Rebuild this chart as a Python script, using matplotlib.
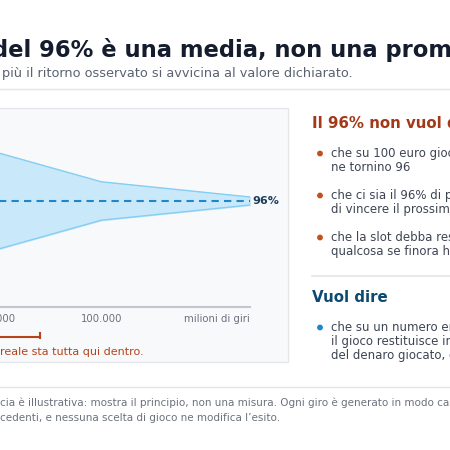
import matplotlib
matplotlib.use("Agg")
import matplotlib.pyplot as plt
from matplotlib.patches import Rectangle, Circle
from matplotlib.lines import Line2D

spins = [1e3, 1e4, 1e5, 2.8e6]
upper = [120, 108, 100.8, 97.0]
lower = [72, 84, 91.2, 95.0]
rtp = 96
tick_pos = [1e4, 1e5, 2.8e6]
tick_labels = ["10.000", "100.000", "milioni di giri"]

W = H = 450
fig = plt.figure(figsize=(4.5, 4.5), dpi=100)
fig.patch.set_facecolor("white")
def fx(x): return x / W
def fy(y): return 1 - y / H
def T(x, y, s, **kw):
    kw.setdefault("va", "baseline")
    fig.text(fx(x), fy(y), s, **kw)
def hline(x0, x1, y, **kw):
    fig.add_artist(Line2D([fx(x0), fx(x1)], [fy(y), fy(y)], transform=fig.transFigure, **kw))

T(-8, 57, "del 96% è una media, non una promessa.", fontsize=16.3, fontweight="bold", color="#141c2e")
T(2, 77, "più il ritorno osservato si avvicina al valore dichiarato.", fontsize=9.3, color="#5a6270")
hline(0, 450, 89, color="#e3e5e8", lw=1)

# chart panel
fig.add_artist(Rectangle((fx(-20), fy(362)), fx(308), (362 - 108) / H, transform=fig.transFigure,
                         facecolor="#f8f9fb", edgecolor="#e4e6ea", lw=1, zorder=-5))
ax = fig.add_axes([fx(-104), fy(307), fx(354), (307 - 110) / H])
ax.set_facecolor("none")
ax.set_xscale("log")
ax.fill_between(spins, lower, upper, color="#c9e9fb", zorder=1)
ax.plot(spins, upper, color="#86cdf2", lw=1, zorder=2)
ax.plot(spins, lower, color="#86cdf2", lw=1, zorder=2)
ax.plot([spins[-1], spins[-1]], [lower[-1], upper[-1]], color="#86cdf2", lw=1)
ax.plot(spins, [rtp] * len(spins), color="#1f86c8", lw=1.5, ls=(0, (3.5, 2.5)), zorder=3)
ax.text(spins[-1] * 1.06, rtp, "96%", fontsize=8, fontweight="bold", color="#1b3f5e", va="center")
ax.set_xlim(1e3, spins[-1])
ax.set_ylim(69.5, 118.75)
for s in ["top", "right", "left"]:
    ax.spines[s].set_visible(False)
ax.spines["bottom"].set_color("#c3c6cc")
ax.spines["bottom"].set_linewidth(1.5)
ax.set_yticks([])
ax.set_xticks(tick_pos)
ax.set_xticklabels(tick_labels)
ax.minorticks_off()
ax.tick_params(axis="x", length=0, labelsize=7.3, labelcolor="#6b717c", pad=5)
lab = ax.get_xticklabels()
lab[-1].set_ha("right")

# bracket
hline(-10, 40, 337, color="#b5441a", lw=1.5)
fig.add_artist(Line2D([fx(40), fx(40)], [fy(337.5), fy(333)], transform=fig.transFigure, color="#b5441a", lw=1.5))
T(0, 355, "reale sta tutta qui dentro.", fontsize=8, color="#b5441a")

# right panel
T(312, 128, "Il 96% non vuol dire", fontsize=10.8, fontweight="bold", color="#a4391a")
bul = [("che su 100 euro giocati", "ne tornino 96", 157),
       ("che ci sia il 96% di probabilità", "di vincere il prossimo giro", 199),
       ("che la slot debba restituire", "qualcosa se finora ha preso", 241)]
for a, b, y in bul:
    fig.add_artist(Circle((fx(320), fy(y - 3.5)), 2.2 / W, transform=fig.transFigure, color="#c2501f"))
    T(331, y, a, fontsize=8.5, color="#3d4452")
    T(331, y + 14, b, fontsize=8.5, color="#3d4452")
hline(312, 460, 276, color="#e3e5e8", lw=1.2)
T(312, 302, "Vuol dire", fontsize=10.8, fontweight="bold", color="#0d4a72")
fig.add_artist(Circle((fx(320), fy(327.5)), 2.2 / W, transform=fig.transFigure, color="#1f86c8"))
for i, s in enumerate(["che su un numero enorme di giri", "il gioco restituisce in media il 96%",
                       "del denaro giocato, e non di più"]):
    T(331, 331 + 14 * i, s, fontsize=8.5, color="#3d4452")

hline(0, 450, 387, color="#e3e5e8", lw=1)
T(0, 406, "cia è illustrativa: mostra il principio, non una misura. Ogni giro è generato in modo casuale",
  fontsize=7.45, color="#6b717c")
T(0, 421, "cedenti, e nessuna scelta di gioco ne modifica l’esito.", fontsize=7.45, color="#6b717c")

fig.savefig("out.png", dpi=100)
